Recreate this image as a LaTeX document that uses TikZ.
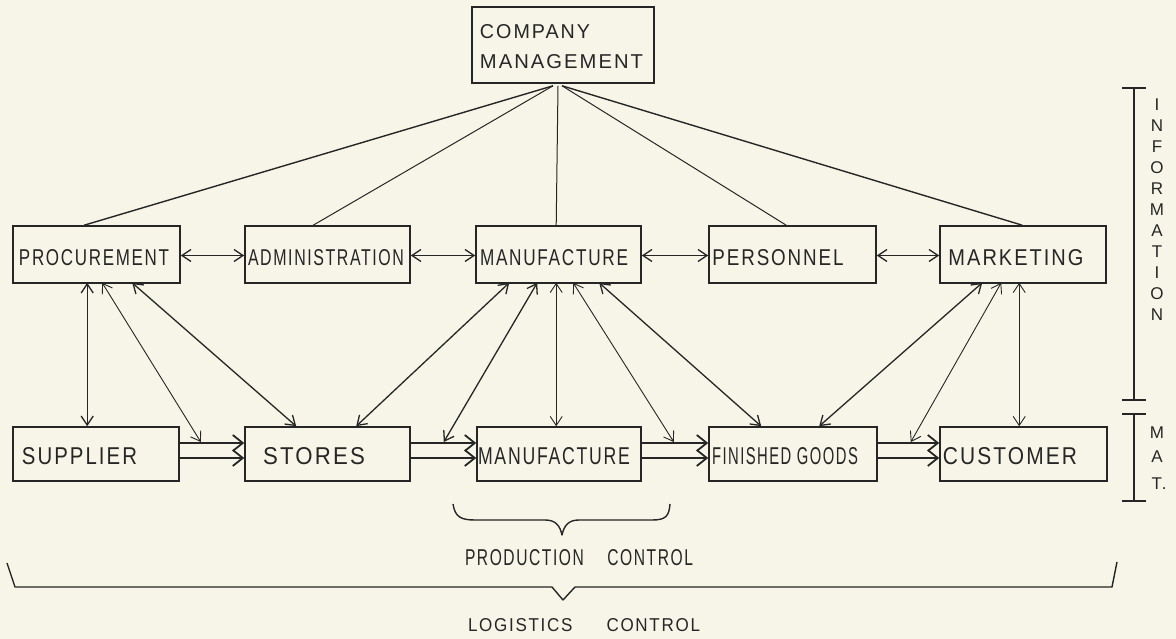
\documentclass[tikz,border=0pt]{standalone}
\usepackage{fontspec}
\setmainfont{Liberation Sans}[LetterSpace=10]
\usetikzlibrary{arrows.meta,calc}
\definecolor{paper}{HTML}{F7F5E7}
\definecolor{ink}{HTML}{262626}
% fit a label to a given width and cap height (in pt)
\newcommand{\fitlabel}[3]{\resizebox{#1pt}{#2pt}{#3}}

\begin{document}
\begin{tikzpicture}[x=1pt,y=-1pt,
  box/.style={draw=ink,line width=1.6pt,inner sep=0pt,minimum height=57pt},
  lowbox/.style={draw=ink,line width=1.6pt,inner sep=0pt,minimum height=54pt},
  txt/.style={inner sep=0pt,text=ink},
  letter/.style={inner sep=0pt,text=ink,font=\fontsize{17}{17}\selectfont},
  mgmt/.style={draw=ink,line width=1.4pt},
  mgmtthin/.style={draw=ink,line width=1.0pt},
  link/.style={draw=ink,line width=1.3pt,
    {Straight Barb[length=9pt,width=12pt]}-{Straight Barb[length=9pt,width=12pt]}},
  linkthin/.style={draw=ink,line width=0.9pt,
    {Straight Barb[length=9pt,width=12pt]}-{Straight Barb[length=9pt,width=12pt]}},
  flow/.style={draw=ink,line width=1.8pt,-{Straight Barb[length=10pt,width=16pt]}},
  brace/.style={draw=ink,line width=1.4pt,line join=round},
  rangebar/.style={draw=ink,line width=1.3pt},
]
% paper
\fill[paper] (0,0) rectangle (1176,639);
\useasboundingbox (0,0) rectangle (1176,639);

% ---- management box
\node[draw=ink,line width=1.6pt,inner sep=0pt,minimum width=182pt,minimum height=76pt] (cm) at (563,45) {};
\node[txt] (cmA) at (535,32) {\fitlabel{110}{14}{COMPANY}};
\node[txt] (cmB) at (561.5,62) {\fitlabel{163}{14}{MANAGEMENT}};

% ---- information row
\node[box,minimum width=167pt] (proc) at (96.5,254.5) {};
\node[box,minimum width=165pt] (admin) at (327.5,254.5) {};
\node[box,minimum width=165pt] (manT) at (558.5,254.5) {};
\node[box,minimum width=167pt] (pers) at (792.5,254.5) {};
\node[box,minimum width=166pt] (mkt) at (1023,254.5) {};

\node[txt] (procT) at (94,258) {\fitlabel{150}{16}{PROCUREMENT}};
\node[txt] (adminT) at (326,258) {\fitlabel{156}{16}{ADMINISTRATION}};
\node[txt] (manTT) at (554,258) {\fitlabel{148}{16}{MANUFACTURE}};
\node[txt] (persT) at (778,258) {\fitlabel{131}{16}{PERSONNEL}};
\node[txt] (mktT) at (1016,258) {\fitlabel{135}{16}{MARKETING}};

% ---- material row
\node[lowbox,minimum width=166pt] (supp) at (96,454) {};
\node[lowbox,minimum width=165pt] (stores) at (327.5,454) {};
\node[lowbox,minimum width=164pt] (manB) at (559,454) {};
\node[lowbox,minimum width=168pt] (fin) at (793,454) {};
\node[lowbox,minimum width=167pt] (cust) at (1023.5,454) {};

\node[txt] (suppT) at (79.5,456) {\fitlabel{115}{17}{SUPPLIER}};
\node[txt] (storesT) at (314,456) {\fitlabel{102}{17}{STORES}};
\node[txt] (manBT) at (554,456) {\fitlabel{152}{17}{MANUFACTURE}};
\node[txt] (finT) at (785,456) {\fitlabel{146}{17}{FINISHED GOODS}};
\node[txt] (custT) at (1010,456) {\fitlabel{134}{17}{CUSTOMER}};

% ---- management lines
\draw[mgmt] ([xshift=-10pt,yshift=-2pt]cm.south) -- ([xshift=72pt]proc.north west);
\draw[mgmtthin] ([xshift=-10pt,yshift=-2pt]cm.south) -- ([xshift=69pt]admin.north west);
\draw[mgmtthin] ([xshift=-5pt,yshift=-2pt]cm.south) -- ([xshift=81pt]manT.north west);
\draw[mgmtthin] ([xshift=-1pt,yshift=-2pt]cm.south) -- ([xshift=78pt]pers.north west);
\draw[mgmt] ([xshift=-1pt,yshift=-2pt]cm.south) -- ([xshift=83pt]mkt.north west);

% ---- information exchange along the row
\draw[link] ([yshift=-1pt]proc.east) -- ([yshift=-1pt]admin.west);
\draw[link] ([yshift=-1pt]admin.east) -- ([yshift=-1pt]manT.west);
\draw[link] ([yshift=-1pt]manT.east) -- ([yshift=-1pt]pers.west);
\draw[link] ([yshift=-1pt]pers.east) -- ([yshift=-1pt]mkt.west);

% ---- material flow
\draw[flow] ([yshift=11pt]supp.east) -- ([yshift=11pt]stores.west);
\draw[flow] ([yshift=-4pt]supp.east) -- ([yshift=-4pt]stores.west);
\draw[flow] ([yshift=11pt]stores.east) -- ([yshift=11pt]manB.west);
\draw[flow] ([yshift=-4pt]stores.east) -- ([yshift=-4pt]manB.west);
\draw[flow] ([yshift=11pt]manB.east) -- ([yshift=11pt]fin.west);
\draw[flow] ([yshift=-4pt]manB.east) -- ([yshift=-4pt]fin.west);
\draw[flow] ([yshift=11pt]fin.east) -- ([yshift=11pt]cust.west);
\draw[flow] ([yshift=-4pt]fin.east) -- ([yshift=-4pt]cust.west);

% points on the upper flow lines
\coordinate (f1) at ([xshift=21pt,yshift=12pt]supp.east);
\coordinate (f2) at ([xshift=33pt,yshift=12pt]stores.east);
\coordinate (f3) at ([xshift=32pt,yshift=12pt]manB.east);
\coordinate (f4) at ([xshift=33pt,yshift=12pt]fin.east);

% ---- information to material links
\draw[link] ([xshift=75pt,yshift=1pt]proc.south west) -- ([xshift=75pt]supp.north west);
\draw[linkthin] ([xshift=90pt,yshift=1pt]proc.south west) -- (f1);
\draw[link] ([xshift=120pt,yshift=1pt]proc.south west) -- ([xshift=52pt]stores.north west);
\draw[link] ([xshift=34pt,yshift=1pt]manT.south west) -- ([xshift=112pt]stores.north west);
\draw[link] ([xshift=62pt,yshift=1pt]manT.south west) -- (f2);
\draw[linkthin] ([xshift=81pt,yshift=1pt]manT.south west) -- ([xshift=80pt]manB.north west);
\draw[linkthin] ([xshift=98pt,yshift=1pt]manT.south west) -- (f3);
\draw[link] ([xshift=124pt,yshift=1pt]manT.south west) -- ([xshift=53pt]fin.north west);
\draw[link] ([xshift=43pt,yshift=1pt]mkt.south west) -- ([xshift=111pt]fin.north west);
\draw[linkthin] ([xshift=62pt,yshift=1pt]mkt.south west) -- (f4);
\draw[linkthin] ([xshift=80pt,yshift=1pt]mkt.south west) -- ([xshift=80pt]cust.north west);

% ---- side range bars
\draw[rangebar] (1134,88) -- (1134,400);
\draw[rangebar] (1122,88) -- (1146,88);
\draw[rangebar] (1122,400) -- (1146,400);
\draw[rangebar] (1134,414) -- (1134,501);
\draw[rangebar] (1122,414) -- (1146,414);
\draw[rangebar] (1122,501) -- (1146,501);
\foreach \l/\y [count=\i] in {I/105,N/126,F/147,O/168,R/189,M/210,A/231,T/252,I/273,O/294,N/315}
  \node[letter] (info\i) at (1157,\y) {\l};
\node[letter] (mat1) at (1157,433) {M};
\node[letter] (mat2) at (1157,457) {A};
\node[letter] (mat3) at (1159,484) {T.};

% ---- braces
\draw[brace] (453,504) .. controls (455,517) and (461,520) .. (475,520) -- (545,520)
  .. controls (556,520) and (560,526) .. (562,535)
  .. controls (564,526) and (568,520) .. (579,520) -- (652,520)
  .. controls (666,520) and (669,516) .. (670,504);
\node[txt] (prod) at (579,558) {\fitlabel{228}{16}{PRODUCTION\hspace{1.5em}CONTROL}};

\draw[brace] (7,563) -- (15,587) -- (552,587) -- (563,600) -- (575,587) -- (1112,587) -- (1117,562);
\node[txt] (logi) at (584,625) {\fitlabel{232}{13}{LOGISTICS\hspace{2em}CONTROL}};
\end{tikzpicture}
\end{document}
